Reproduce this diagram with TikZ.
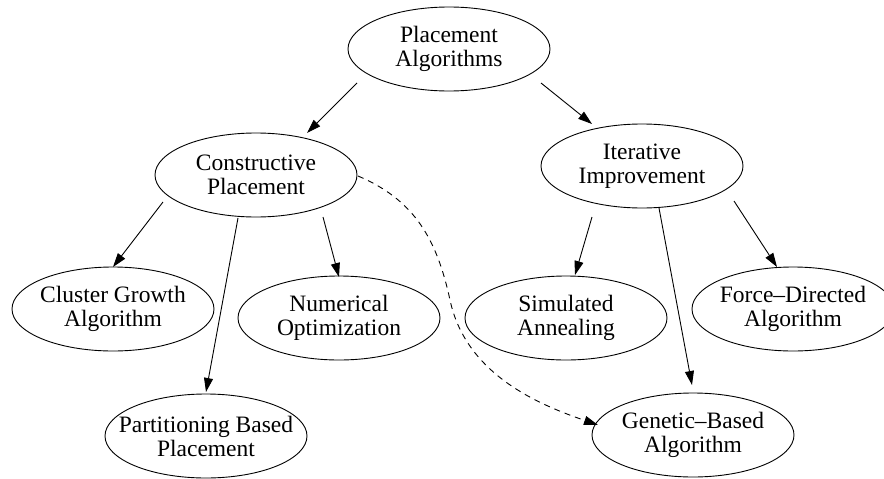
\documentclass[tikz,border=0pt]{standalone}
\usepackage{fontspec}
\setmainfont{Liberation Serif}
\usetikzlibrary{arrows.meta,shapes.geometric,calc}
\begin{document}
\begin{tikzpicture}[x=1pt,y=-1pt,
  algo/.style={ellipse,draw,line width=0.9pt,minimum width=202pt,minimum height=84pt,
    inner xsep=-20pt,inner ysep=0pt,align=center,font=\fontsize{23.5}{24}\selectfont},
  link/.style={line width=0.9pt,-{Triangle[length=14pt,width=9pt]}},
  weak/.style={link,dash pattern=on 6pt off 5pt}]
\clip (0,0) rectangle (884,479);

% taxonomy nodes
\node[algo] (pa) at (449,49)  {Placement\\Algorithms};
\node[algo] (cp) at (256,175) {Constructive\\Placement};
\node[algo] (ii) at (642,166) {Iterative\\Improvement};
\node[algo] (cg) at (113,309) {Cluster Growth\\Algorithm};
\node[algo] (no) at (339,318) {Numerical\\Optimization};
\node[algo] (sa) at (566,318) {Simulated\\Annealing};
\node[algo] (fd) at (793,309) {Force–Directed\\Algorithm};
\node[algo] (pb) at (206,436) {Partitioning Based\\Placement};
\node[algo] (gb) at (693,435) {Genetic–Based\\Algorithm};

% solid links
\draw[link] ($(pa)+(-92,34)$) -- ($(cp)+(51,-42)$);
\draw[link] ($(pa)+(92,34)$)  -- ($(ii)+(-50,-42)$);
\draw[link] ($(cp)+(-93,27)$) -- ($(cg)+(0,-42)$);
\draw[link] ($(cp)+(-18,43)$) -- ($(pb)+(0,-44)$);
\draw[link] ($(cp)+(67,42)$)  -- ($(no)+(0,-41)$);
\draw[link] ($(ii)+(-50,51)$) -- ($(sa)+(9,-43)$);
\draw[link] ($(ii)+(17,42)$)  -- ($(gb)+(-1,-50)$);
\draw[link] ($(ii)+(92,35)$)  -- ($(fd)+(-16,-42)$);

% dashed link from constructive placement to the genetic approach
\coordinate (bend) at (450,300);
\draw[weak] ($(cp)+(102,1)$) .. controls ($(cp)+(159,25)$) and ($(cp)+(181,65)$) .. (bend)
  .. controls ($(bend)+(16,75)$) and ($(bend)+(90,105)$) .. ($(gb)+(-95,-10)$);
\end{tikzpicture}
\end{document}
